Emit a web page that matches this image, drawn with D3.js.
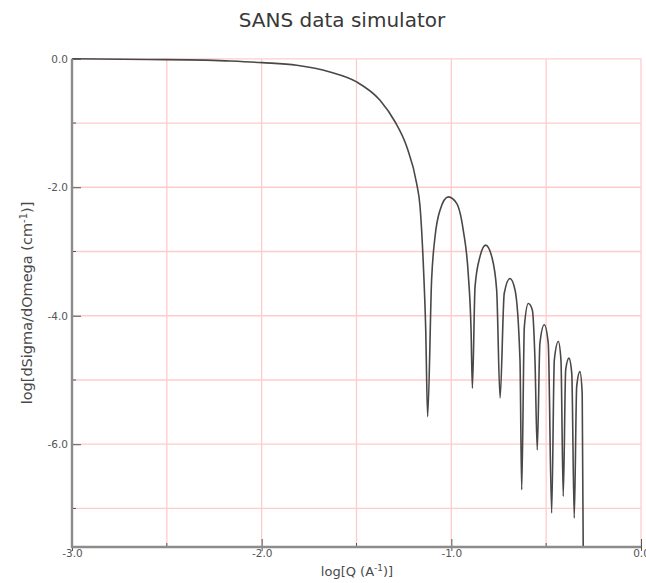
<!DOCTYPE html>
<meta charset="utf-8">
<style>
body { margin: 0; background: #fff; }
.title { font: 20px "DejaVu Sans", sans-serif; fill: #383838; }
.tick text { font: 10.5px "DejaVu Sans", sans-serif; fill: #555; }
.label { font: 13px "DejaVu Sans", sans-serif; fill: #4a4a4a; }
</style>
<svg width="646" height="583"></svg>
<script src="https://d3js.org/d3.v7.min.js"></script>
<script>

// values: log10(Q) and log10(dSigma/dOmega)
var logQ = [-3.0, -2.6, -2.3, -2.167, -1.997, -1.815, -1.640, -1.499, -1.376, -1.297,
            -1.235, -1.183, -1.165, -1.148, -1.135, -1.125, -1.104, -1.086, -1.060, -1.016,
            -0.972, -0.937, -0.911, -0.896, -0.889, -0.875, -0.849, -0.819, -0.787, -0.761,
            -0.743, -0.721, -0.691, -0.664, -0.638, -0.629, -0.615, -0.594, -0.573, -0.559,
            -0.547, -0.533, -0.510, -0.489, -0.471, -0.457, -0.436, -0.422, -0.410, -0.397,
            -0.380, -0.365, -0.352, -0.339, -0.322, -0.310, -0.304];
var logI = [0.0, -0.01, -0.02, -0.035, -0.06, -0.10, -0.205, -0.36, -0.645, -0.98,
            -1.37, -1.94, -2.3, -3.18, -4.22, -5.57, -3.44, -2.77, -2.36, -2.15,
            -2.25, -2.67, -3.34, -4.22, -5.13, -3.55, -3.08, -2.90, -3.08, -3.6,
            -5.28, -3.65, -3.42, -3.6, -4.69, -6.71, -4.17, -3.81, -3.91, -4.69,
            -6.09, -4.43, -4.14, -4.43, -7.07, -4.69, -4.40, -4.69, -6.81, -4.84,
            -4.66, -4.90, -7.15, -5.10, -4.87, -5.21, -7.9];

var xMajor = [-3, -2, -1, 0];
var xMinor = [-2.5, -1.5, -0.5];
var yMajor = [0, -2, -4, -6];
var yMinor = [-1, -3, -5, -7];
var xGrid = [-3, -2.5, -2, -1.5, -1, -0.5, 0];
var yGrid = [0, -1, -2, -3, -4, -5, -6, -7];

var data = logQ.map(function(q, i) { return {q: q, v: logI[i]}; });

var svg = d3.select("svg"),
    pLeft = 72, pRight = 641, pTop = 58.8, pBottom = 547;

var x = d3.scaleLinear().domain([-3, 0]).range([pLeft, pRight]);
var y = d3.scaleLinear().domain([-7.6, 0]).range([pBottom, pTop]);

// title
svg.append("text").attr("class", "title")
    .attr("x", 342).attr("y", 27).attr("text-anchor", "middle")
    .text("SANS data simulator");

// grid
svg.append("g").selectAll("line").data(xGrid).join("line")
    .attr("x1", x).attr("x2", x).attr("y1", pTop).attr("y2", pBottom)
    .attr("stroke", "#fcc").attr("stroke-width", 1.3);
svg.append("g").selectAll("line").data(yGrid).join("line")
    .attr("y1", y).attr("y2", y).attr("x1", pLeft).attr("x2", pRight)
    .attr("stroke", "#fcc").attr("stroke-width", 1.3);

// curve
svg.append("defs").append("clipPath").attr("id", "clip")
  .append("rect").attr("x", pLeft).attr("y", pTop - 2)
    .attr("width", pRight - pLeft).attr("height", pBottom - pTop + 2);

var line = d3.line()
    .x(function(d) { return x(d.q); })
    .y(function(d) { return y(d.v); })
    .curve(d3.curveMonotoneX);

svg.append("path").datum(data)
    .attr("clip-path", "url(#clip)")
    .attr("fill", "none")
    .attr("stroke", "#484848")
    .attr("stroke-width", 1.6)
    .attr("d", line);

// axes
var fmt = d3.format(".1f");
var xAxis = d3.axisBottom(x).tickValues(xMajor).tickSize(-8).tickPadding(4)
    .tickFormat(function(d) { return fmt(d).replace("−", "-"); });
var gx = svg.append("g").attr("transform", "translate(0," + pBottom + ")").call(xAxis);
gx.selectAll(".tick line").attr("stroke", "#555").attr("y2", -8).attr("y1", 4);
gx.selectAll(".tick text").attr("y", 3).attr("dy", "0.71em");

var yAxis = d3.axisLeft(y).tickValues(yMajor).tickSize(-9).tickPadding(4)
    .tickFormat(function(d) { return fmt(d).replace("−", "-"); });
var gy = svg.append("g").attr("transform", "translate(" + pLeft + ",0)").call(yAxis);
gy.selectAll(".tick line").attr("stroke", "#555");
gy.selectAll(".tick text").attr("x", -4);

[gx, gy].forEach(function(g) {
  g.select(".domain").remove();
});

// minor ticks
svg.append("g").selectAll("line").data(xMinor).join("line")
    .attr("x1", x).attr("x2", x).attr("y1", pBottom).attr("y2", pBottom - 4)
    .attr("stroke", "#555");
svg.append("g").selectAll("line").data(yMinor).join("line")
    .attr("y1", y).attr("y2", y).attr("x1", pLeft).attr("x2", pLeft + 4)
    .attr("stroke", "#555");

// axis lines
svg.append("line").attr("x1", pLeft).attr("x2", pLeft).attr("y1", pTop).attr("y2", pBottom + 1)
    .attr("stroke", "#8c8c8c").attr("stroke-width", 2.4);
svg.append("line").attr("x1", pLeft - 1).attr("x2", pRight).attr("y1", pBottom).attr("y2", pBottom)
    .attr("stroke", "#8c8c8c").attr("stroke-width", 2.4);

// axis labels
var xl = svg.append("text").attr("class", "label")
    .attr("x", 357).attr("y", 576).attr("text-anchor", "middle");
xl.append("tspan").text("log[Q (A");
xl.append("tspan").attr("dy", -5).attr("font-size", 9).text("-1");
xl.append("tspan").attr("dy", 5).text(")]");

var yl = svg.append("text").attr("class", "label")
    .attr("font-size", 14.5)
    .attr("transform", "translate(32,303) rotate(-90)").attr("text-anchor", "middle");
yl.append("tspan").style("font-size", "14.5px").text("log[dSigma/dOmega (cm");
yl.append("tspan").attr("dy", -5).style("font-size", "10px").text("-1");
yl.append("tspan").attr("dy", 5).style("font-size", "14.5px").text(")]");

</script>
